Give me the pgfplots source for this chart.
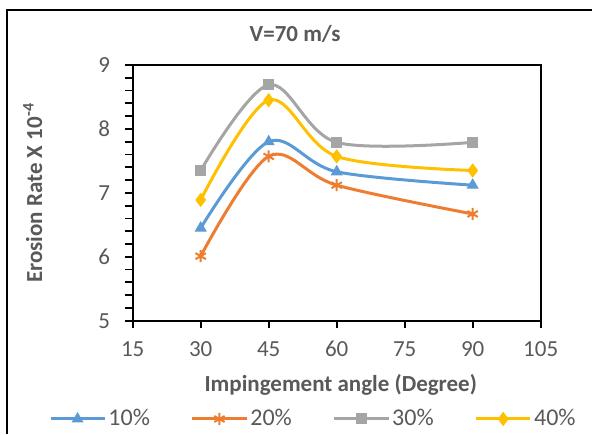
\documentclass[border=0pt]{standalone}
\usepackage{pgfplots}
\pgfplotsset{compat=1.18}
\usepackage{fontspec}
\setmainfont{Carlito}
\definecolor{cblue}{HTML}{5B9BD5}
\definecolor{corange}{HTML}{ED7D31}
\definecolor{cgray}{HTML}{A5A5A5}
\definecolor{cgold}{HTML}{FFC000}
\definecolor{ctext}{HTML}{595959}
\begin{document}
\begin{tikzpicture}
\path[use as bounding box] (0,0) rectangle (296pt,217pt);
\draw[black,line width=1.1pt] (3.5pt,0pt) -- (3.5pt,212pt) -- (296pt,212pt);
\begin{axis}[
  at={(66.35pt,56.65pt)}, anchor=south west,
  scale only axis, width=204pt, height=127.85pt,
  xmin=15, xmax=105, ymin=5, ymax=9,
  xtick={15,30,45,60,75,90,105},
  ytick={5,6,7,8,9},
  minor y tick num=4,
  tick align=outside,
  major tick length=3.8pt, minor tick length=3.8pt,
  every tick/.style={black,line width=0.9pt},
  axis line style={black,line width=1pt},
  xtick pos=bottom, ytick pos=left,
  /pgf/number format/assume math mode=true,
  ticklabel style={font=\fontsize{11.5}{13}\selectfont, text=ctext},
  yticklabel style={xshift=-4pt},
  xticklabel style={yshift=-3pt},
  xlabel={Impingement angle (Degree)},
  ylabel={Erosion Rate X 10\textsuperscript{-4}},
  label style={font=\bfseries\fontsize{11.5}{13}\selectfont, text=ctext},
  xlabel style={at={(axis description cs:0.51,-0.25)}, anchor=center},
  ylabel style={at={(axis description cs:-0.245,0.5)}, anchor=center},
  title={V=70 m/s},
  title style={font=\bfseries\fontsize{11.5}{13}\selectfont, text=ctext, at={(axis description cs:0.398,1.076)}, anchor=center, yshift=0pt},
  legend columns=4,
  legend style={draw=none, fill=none, inner sep=0pt, at={(axis description cs:-0.206,-0.3844)}, anchor=west,
    font=\fontsize{12}{13}\selectfont, text=ctext,
    nodes={inner xsep=1.2pt, inner ysep=1pt},
    /tikz/every even column/.append style={column sep=19.3pt}},
  legend image code/.code={\draw[mark repeat=2,mark phase=2,#1] plot coordinates {(0pt,0pt) (13.5pt,0pt) (27pt,0pt)};},
  every axis plot/.append style={line width=1.5pt, smooth, tension=0.55},
]
\addplot[color=cblue, mark=triangle*, mark size=3pt, mark options={fill=cblue,line width=0.5pt}]
  coordinates {(30,6.45) (45,7.80) (60,7.33) (90,7.12)};
\addlegendentry{10\%}
\addplot[color=corange, mark=asterisk, mark size=3pt, mark options={line width=1pt}]
  coordinates {(30,6.01) (45,7.57) (60,7.12) (90,6.67)};
\addlegendentry{20\%}
\addplot[color=cgray, mark=square*, mark size=2.5pt, mark options={fill=cgray,line width=0.5pt}]
  coordinates {(30,7.35) (45,8.69) (60,7.79) (90,7.79)};
\addlegendentry{30\%}
\addplot[color=cgold, mark=diamond*, mark size=3.2pt, mark options={fill=cgold,line width=0.5pt}]
  coordinates {(30,6.89) (45,8.45) (60,7.57) (90,7.35)};
\addlegendentry{40\%}
\end{axis}
\end{tikzpicture}
\end{document}
